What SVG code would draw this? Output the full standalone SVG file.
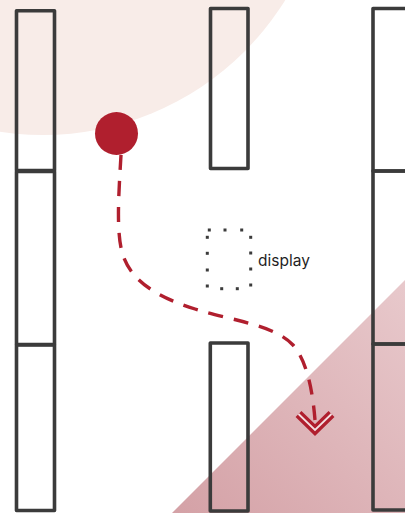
<svg xmlns="http://www.w3.org/2000/svg" width="405" height="513" viewBox="0 0 405 513">
  <defs>
    <linearGradient id="tri" x1="172" y1="513" x2="405" y2="280" gradientUnits="userSpaceOnUse">
      <stop offset="0" stop-color="#d4a1a6"/>
      <stop offset="1" stop-color="#e8c9cc"/>
    </linearGradient>
    <marker id="chev" viewBox="-30 -30 60 60" markerWidth="60" markerHeight="60" refX="-10" refY="0" orient="90" markerUnits="userSpaceOnUse" overflow="visible">
      <path d="M-16,-16.5 L0,0 L-16,16.5" fill="none" stroke="#b01f2e" stroke-width="8.5" stroke-linejoin="miter" stroke-linecap="butt"/>
      <path d="M-16,-16.5 L0,0 L-16,16.5" fill="none" stroke="#f3dfe1" stroke-width="1.8" stroke-linejoin="miter"/>
    </marker>
    <style>
      .wall { fill: none; stroke: #3b3b3b; stroke-width: 3.6; stroke-linejoin: round; }
      .dot { fill: #3b3b3b; }
      .path { fill: none; stroke: #b01f2e; stroke-width: 3.4; stroke-dasharray: 15 11; }
      .label { font-family: Inter, "Liberation Sans", sans-serif; font-size: 15.5px; fill: #1f1f1f; }
    </style>
  </defs>

  <rect width="405" height="513" fill="#ffffff"/>
  <circle cx="43" cy="-150" r="285" fill="#f8ece8"/>
  <polygon points="172,513 405,280 405,513" fill="url(#tri)"/>

  <g id="shelf-left">
    <rect class="wall" x="16.5" y="10.8" width="38" height="159.7"/>
    <rect class="wall" x="16.5" y="171.5" width="38" height="173"/>
    <rect class="wall" x="16.5" y="345" width="38" height="165.5"/>
  </g>
  <g id="shelf-middle-top">
    <rect class="wall" x="210.5" y="8.5" width="37.5" height="160"/>
  </g>
  <g id="shelf-middle-bottom">
    <rect class="wall" x="210.3" y="343" width="37.7" height="168"/>
  </g>
  <g id="shelf-right">
    <rect class="wall" x="373" y="8.5" width="50" height="162.5"/>
    <rect class="wall" x="373" y="171" width="50" height="173"/>
    <rect class="wall" x="373" y="344" width="50" height="166"/>
  </g>

  <g id="display">
    <g class="dot">
      <rect x="207.8" y="228.5" width="3" height="3"/>
      <rect x="223.5" y="228.5" width="3" height="3"/>
      <rect x="240.2" y="228.5" width="3" height="3"/>
      <rect x="249.2" y="235.8" width="3" height="3"/>
      <rect x="249.2" y="251.5" width="3" height="3"/>
      <rect x="249.2" y="267.5" width="3" height="3"/>
      <rect x="249.2" y="283.5" width="3" height="3"/>
      <rect x="205.8" y="235.8" width="3" height="3"/>
      <rect x="205.8" y="251.8" width="3" height="3"/>
      <rect x="205.8" y="268.5" width="3" height="3"/>
      <rect x="205.8" y="284.5" width="3" height="3"/>
      <rect x="220.2" y="287.2" width="3" height="3"/>
      <rect x="235.8" y="287.2" width="3" height="3"/>
    </g>
    <text class="label" x="258" y="265.7">display</text>
  </g>

  <g id="connectors">
    <path class="path" d="M121,155 C119,190 116,230 122,252 C130,282 160,298 195,309 C230,320 275,325 293,345 C308,362 313,395 315,420" marker-end="url(#chev)"/>
  </g>

  <g id="start">
    <circle cx="116.5" cy="133.5" r="21.5" fill="#b01f2e"/>
  </g>
</svg>
